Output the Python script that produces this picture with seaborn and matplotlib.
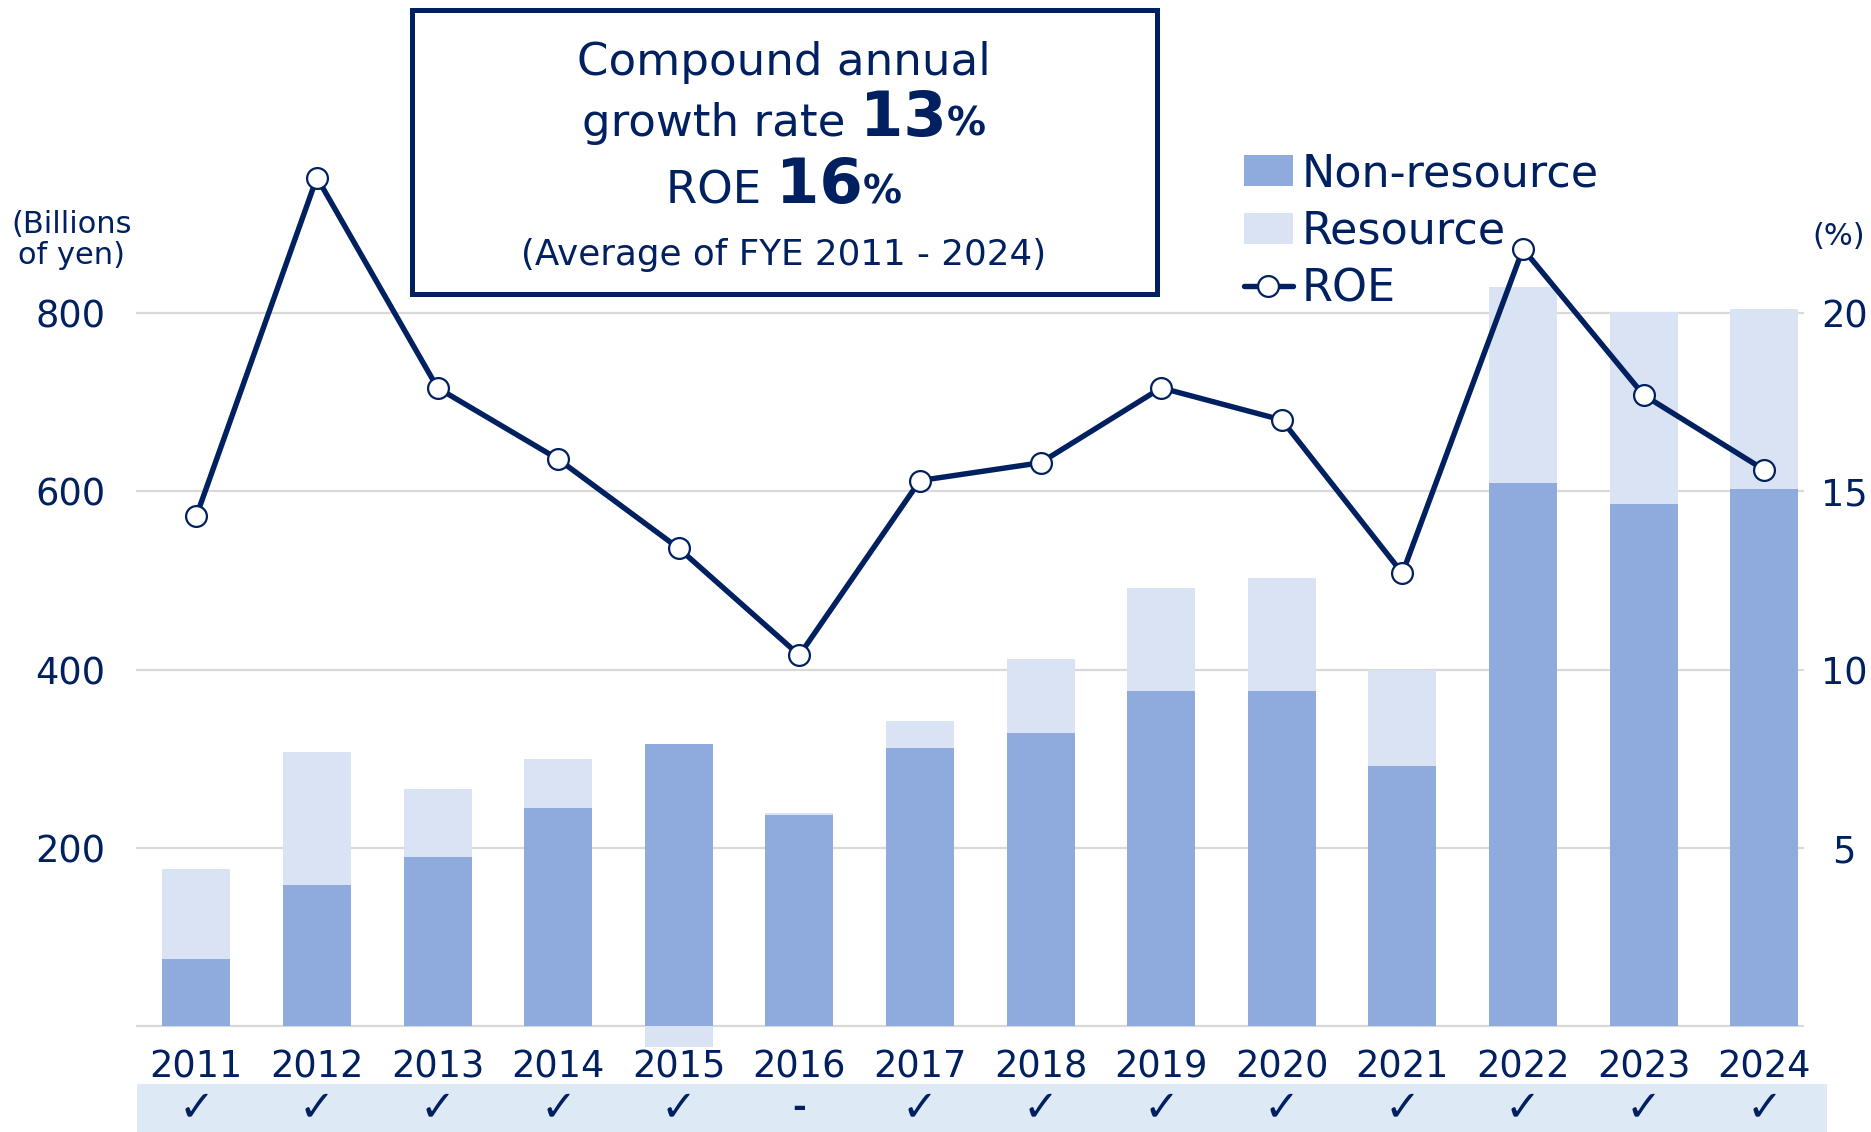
import numpy as np
import pandas as pd
import matplotlib
matplotlib.use("Agg")
import matplotlib.pyplot as plt
import seaborn as sns
from matplotlib.lines import Line2D
from matplotlib.patches import Patch, Rectangle
from matplotlib.offsetbox import TextArea, HPacker, AnnotationBbox
from matplotlib.transforms import blended_transform_factory

# ---------------- data ----------------
years = ["2011", "2012", "2013", "2014", "2015", "2016", "2017",
         "2018", "2019", "2020", "2021", "2022", "2023", "2024"]
non_resource = [75, 158, 190, 245, 316, 237, 312, 329, 376, 376, 292, 609, 586, 602]
resource = [101, 150, 76, 55, -24, 2, 30, 83, 116, 127, 107, 220, 215, 203]
roe = [14.3, 23.8, 17.9, 15.9, 13.4, 10.4, 15.3, 15.8, 17.9, 17.0, 12.7, 21.8, 17.7, 15.6]
dividend_marks = ["✓", "✓", "✓", "✓", "✓", "-", "✓", "✓", "✓", "✓", "✓", "✓", "✓", "✓"]
left_ticks = [200, 400, 600, 800]
right_ticks = [5, 10, 15, 20]
legend_labels = ["Non-resource", "Resource", "ROE"]

# ---------------- style ----------------
NAVY = "#002060"
C_NON = "#8FAADC"
C_RES = "#DAE3F3"
GRID = "#D9D9D9"
BAND = "#DDEAF6"

sns.set_style("white")
plt.rcParams["font.family"] = ["DejaVu Sans"]

W, H = 1871, 1132
fig = plt.figure(figsize=(W / 100, H / 100), dpi=100)

ax = fig.add_axes([136 / W, 1 - 1048.3 / H, 1668 / W, (1048.3 - 134.75) / H])

df = pd.DataFrame({"year": years, "non": non_resource, "res": resource, "roe": roe})
res_bottom = [n if r >= 0 else 0 for n, r in zip(non_resource, resource)]

sns.barplot(data=df, x="year", y="non", color=C_NON, saturation=1, width=0.564,
            errorbar=None, ax=ax, linewidth=0, zorder=2)
sns.barplot(data=df, x="year", y="res", color=C_RES, saturation=1, width=0.564,
            errorbar=None, ax=ax, linewidth=0, zorder=2, bottom=res_bottom)

ax.set_xlim(-0.5, 13.33)
ax.set_ylim(-25, 1000)
ax.set_yticks(left_ticks)
ax.set_yticklabels([str(t) for t in left_ticks])
ax.set_axisbelow(True)
ax.yaxis.grid(True, color=GRID, linewidth=1.6)
ax.axhline(0, color=GRID, linewidth=1.6, zorder=1)
for s in ax.spines.values():
    s.set_visible(False)
ax.set_xlabel("")
ax.set_ylabel("")
ax.tick_params(axis="y", length=0, pad=22, labelsize=26.5, labelcolor=NAVY)
ax.tick_params(axis="x", length=0, pad=0, labelsize=26.5, labelcolor=NAVY)

# ROE line on secondary axis
ax2 = ax.twinx()
sns.lineplot(x=np.arange(len(years)), y=roe, ax=ax2, color=NAVY, linewidth=3.9,
             marker="o", markersize=15, markerfacecolor="white",
             markeredgecolor=NAVY, markeredgewidth=1.6, zorder=5)
ax2.set_ylim(-25 / 40, 25)
ax2.set_xlim(-0.5, 13.33)
ax2.set_yticks(right_ticks)
ax2.set_yticklabels([str(t) for t in right_ticks])
ax2.tick_params(axis="y", length=0, pad=29, labelsize=26.5, labelcolor=NAVY)
for lab in ax2.get_yticklabels():
    lab.set_horizontalalignment("center")
for s in ax2.spines.values():
    s.set_visible(False)
ax2.set_ylabel("")
ax2.grid(False)

# axis unit labels
fig.text(72 / W, 1 - 240 / H, "(Billions\nof yen)", ha="center", va="center",
         fontsize=22, color=NAVY, linespacing=1.12, multialignment="center")
fig.text(1839 / W, 1 - 237 / H, "(%)", ha="center", va="center",
         fontsize=22, color=NAVY)

# dividend band with marks
fig.add_artist(Rectangle((137 / W, 0), (1827 - 137) / W, (1132 - 1084) / H,
                         transform=fig.transFigure, facecolor=BAND,
                         edgecolor="none", zorder=0))
trans = blended_transform_factory(ax.transData, fig.transFigure)
for i, m in enumerate(dividend_marks):
    ax.text(i, 1 - 1108 / H, m, transform=trans, ha="center", va="center",
            fontsize=24 if m == "-" else 31, color=NAVY, clip_on=False,
            fontweight="bold" if m == "-" else "normal")

# title box
fig.add_artist(Rectangle((412 / W, 1 - 294 / H), (1157 - 412) / W, (294 - 10) / H,
                         transform=fig.transFigure, fill=False,
                         edgecolor=NAVY, linewidth=3.6, zorder=10))
cx = 784 / W
fig.text(cx, 1 - 62 / H, "Compound annual", ha="center", va="center",
         fontsize=32.5, color=NAVY)


def mixed_line(parts, y):
    areas = [TextArea(t, textprops=dict(fontsize=fs, color=NAVY, fontweight=fw))
             for t, fs, fw in parts]
    pack = HPacker(children=areas, align="baseline", pad=0, sep=0)
    ab = AnnotationBbox(pack, (cx, 1 - y / H), xycoords="figure fraction",
                        frameon=False, box_alignment=(0.5, 0.5), pad=0)
    fig.add_artist(ab)


mixed_line([("growth rate ", 32.5, "normal"), ("13", 45, "bold"), ("%", 28, "bold")], 119)
mixed_line([("ROE ", 32.5, "normal"), ("16", 45, "bold"), ("%", 28, "bold")], 186)
fig.text(cx, 1 - 255 / H, "(Average of FYE 2011 - 2024)", ha="center", va="center",
         fontsize=25.7, color=NAVY)

# legend
handles = [Patch(facecolor=C_NON, edgecolor="none"),
           Patch(facecolor=C_RES, edgecolor="none"),
           Line2D([], [], color=NAVY, linewidth=3.9, marker="o", markersize=15,
                  markerfacecolor="white", markeredgecolor=NAVY, markeredgewidth=1.6)]
fig.legend(handles, legend_labels, loc="upper left",
           bbox_to_anchor=(1244 / W, 1 - 152 / H), frameon=False, fontsize=32,
           handlelength=1.1, handleheight=0.7, handletextpad=0.2,
           labelspacing=0.33, borderpad=0, borderaxespad=0, labelcolor=NAVY)

fig.savefig("out.png", dpi=100)
